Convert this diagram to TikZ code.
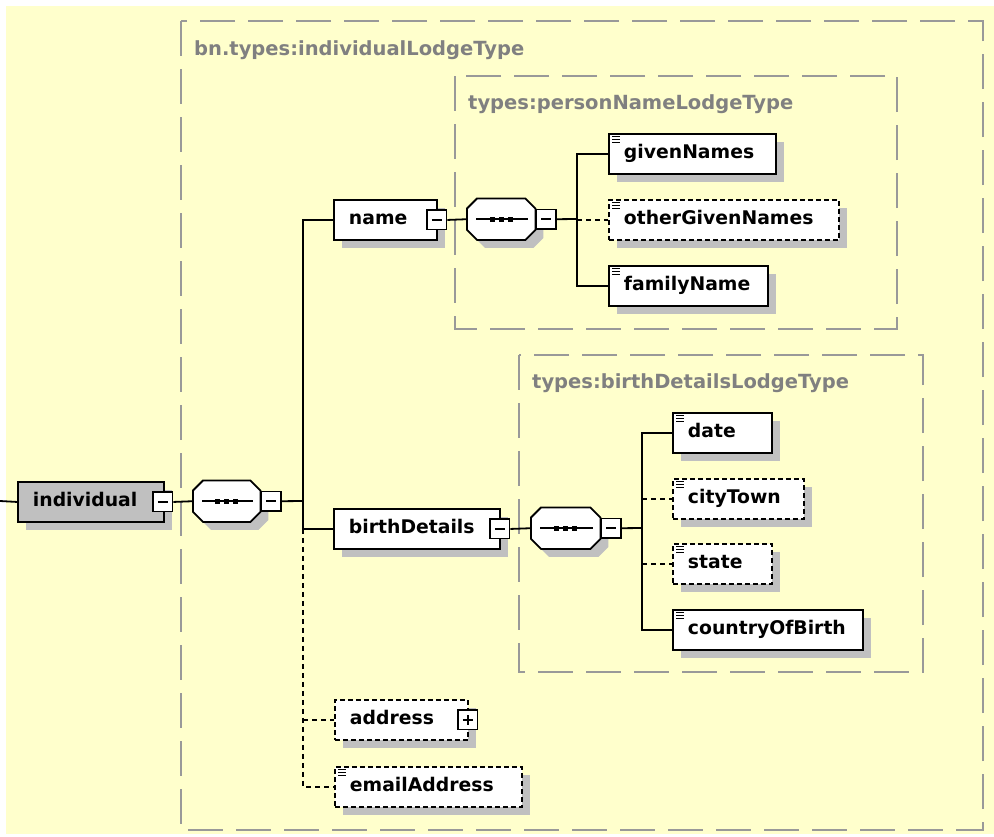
\documentclass[tikz,border=0pt]{standalone}
\usepackage{fontspec}
\setmainfont{DejaVu Sans}
\usetikzlibrary{shadows}
\definecolor{bgc}{RGB}{255,255,204}
\definecolor{framec}{RGB}{153,153,153}
\definecolor{lblc}{RGB}{128,128,128}
\definecolor{shadowc}{RGB}{192,192,192}
\definecolor{indc}{RGB}{192,192,192}
\newcommand\octpath[1]{([xshift=10pt]#1.north west) -- ([xshift=-10pt]#1.north east) -- ([yshift=-10pt]#1.north east) -- ([yshift=10pt]#1.south east) -- ([xshift=-10pt]#1.south east) -- ([xshift=10pt]#1.south west) -- ([yshift=10pt]#1.south west) -- ([yshift=-10pt]#1.north west) -- cycle}
\newcommand\eqicon[1]{\foreach \dy in {3.5,6.5,9.5} {\draw[line width=1pt] ([xshift=4pt,yshift=-\dy]#1.north west) -- ++(8,0);}}
\newcommand\minusline[1]{\draw[line width=1.5pt] ([xshift=-5pt]#1.center) -- ([xshift=5pt]#1.center);}
\newcommand\seqcomp[4]{% name, left, top, width
  \node[comp, minimum width=#4pt] (#1) at (#2,#3) {};
  \begin{scope}[transform canvas={shift={(8pt,-8pt)}}]
    \fill[shadowc] \octpath{#1};
  \end{scope}
  \filldraw[fill=white, line width=1.8pt] \octpath{#1};
  \draw[line width=1.5pt] ([xshift=9pt]#1.west) -- ([xshift=-7pt]#1.east);
  \foreach \dx in {-9,0,9} {\fill ([xshift=\dx]#1.center) +(-2.5,-2.5) rectangle +(2.5,2.5);}
  \node[ctrl] (#1m) at ([xshift=11pt]#1.east) {};
  \minusline{#1m}
}
\tikzset{
  conn/.style={line width=1.8pt, black},
  conndash/.style={conn, dash pattern=on 5pt off 4pt},
  elem/.style={draw, line width=1.9pt, fill=white,
    general shadow={fill=shadowc, shadow xshift=8pt, shadow yshift=-8pt},
    anchor=north west, minimum height=40pt, inner xsep=15pt, inner ysep=0pt,
    text height=13.5pt, text depth=3.5pt, align=left,
    font=\fontsize{18.8}{22}\selectfont\bfseries},
  optelem/.style={elem, dash pattern=on 5pt off 3pt},
  frame/.style={draw=framec, line width=2.5pt, dash pattern=on 35pt off 13pt},
  lbl/.style={text=lblc, font=\fontsize{19.5}{22}\selectfont\bfseries, anchor=base west, inner sep=0pt},
  ctrl/.style={draw, fill=white, line width=1.5pt, minimum size=19.5pt, inner sep=0pt},
  comp/.style={inner sep=0pt, minimum height=41pt, anchor=north west},
}
\begin{document}
\begin{tikzpicture}[x=1pt, y=-1pt]
\useasboundingbox (0,0) rectangle (994,836);
\fill[bgc] (6,6) rectangle (994,834);

% type frames
\draw[frame] (181,21) rectangle (983,830);
\draw[frame] (455,76) rectangle (897,329);
\draw[frame] (519,355) rectangle (923,672);
\node[lbl] (lt1) at (194,55) {bn.types:individualLodgeType};
\node[lbl] (lt2) at (468,109) {types:personNameLodgeType};
\node[lbl] (lt3) at (532,388) {types:birthDetailsLodgeType};

% root element
\node[elem, fill=indc, minimum width=146pt, text width=116pt] (individual) at (17,481) {\mbox{individual}};
\node[ctrl] (individualm) at ([xshift=-2pt]individual.east) {};
\minusline{individualm}
\seqcomp{ca}{193}{480.5}{67}

% children of individual
\node[elem, minimum width=103pt, text width=73pt] (name) at (333,199) {\mbox{name}};
\node[ctrl] (namem) at ([xshift=-1pt]name.east) {};
\minusline{namem}
\node[elem, minimum width=166pt, text width=136pt] (birth) at (333,508) {\mbox{birthDetails}};
\node[ctrl] (birthm) at ([xshift=-1pt]birth.east) {};
\minusline{birthm}
\node[optelem, minimum width=133pt, text width=103pt] (address) at (334,699) {\mbox{address}};
\node[ctrl] (addressp) at ([xshift=-1pt]address.east) {};
\minusline{addressp}
\draw[line width=1.5pt] ([yshift=-5pt]addressp.center) -- ([yshift=5pt]addressp.center);
\node[optelem, minimum width=187pt, text width=157pt] (email) at (334,766) {\mbox{emailAddress}};
\eqicon{email}

% name content
\seqcomp{cb}{467}{198.5}{68}
\node[elem, minimum width=167pt, text width=137pt] (given) at (608,133) {\mbox{givenNames}};
\eqicon{given}
\node[optelem, minimum width=230pt, text width=200pt] (other) at (608,199) {\mbox{otherGivenNames}};
\eqicon{other}
\node[elem, minimum width=159pt, text width=129pt] (family) at (608,265) {\mbox{familyName}};
\eqicon{family}

% birthDetails content
\seqcomp{cc}{531}{507.5}{69}
\node[elem, minimum width=99pt, text width=69pt] (date) at (672,412) {\mbox{date}};
\eqicon{date}
\node[optelem, minimum width=131pt, text width=101pt] (city) at (672,478) {\mbox{cityTown}};
\eqicon{city}
\node[optelem, minimum width=99pt, text width=69pt] (state) at (672,543) {\mbox{state}};
\eqicon{state}
\node[elem, minimum width=190pt, text width=160pt] (country) at (672,609) {\mbox{countryOfBirth}};
\eqicon{country}

% bus coordinates
\coordinate (in0) at (0,501);
\coordinate (busa) at (303,501);
\coordinate (busb) at (577,219);
\coordinate (busc) at (642,528);

% connectors
\draw[conn] (in0) -- (individual.west);
\draw[conn] (individualm.east) -- (ca.west);
\draw[conn] (cam.east) -- (busa);
\draw[conn] (name.west) -- (name.west -| busa) -- (birth.west -| busa);
\draw[conn] (birth.west -| busa) -- (birth.west);
\draw[conndash] (birth.west -| busa) -- (email.west -| busa) -- (email.west);
\draw[conndash] (address.west -| busa) -- (address.west);

\draw[conn] (namem.east) -- (cb.west);
\draw[conn] (cbm.east) -- (busb);
\draw[conn] (given.west) -- (given.west -| busb) -- (family.west -| busb) -- (family.west);
\draw[conndash] (other.west -| busb) -- (other.west);

\draw[conn] (birthm.east) -- (cc.west);
\draw[conn] (ccm.east) -- (busc);
\draw[conn] (date.west) -- (date.west -| busc) -- (country.west -| busc) -- (country.west);
\draw[conndash] (city.west -| busc) -- (city.west);
\draw[conndash] (state.west -| busc) -- (state.west);
\end{tikzpicture}
\end{document}
